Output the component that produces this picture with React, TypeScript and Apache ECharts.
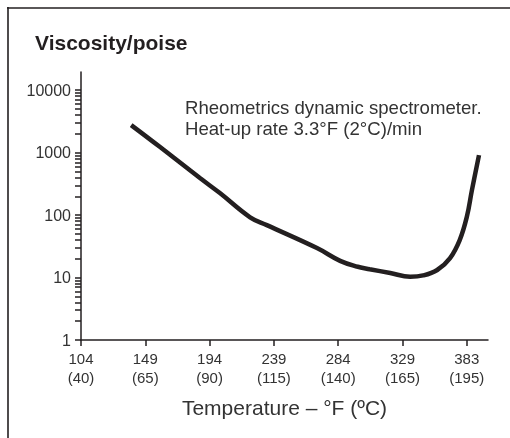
import React, { useEffect, useRef } from "react";
import * as echarts from "echarts";

// Tick labels (evenly spaced tick positions)
const tickF = ["104", "149", "194", "239", "284", "329", "383"];
const tickC = ["40", "65", "90", "115", "140", "165", "195"];
const yTickValues = [1, 10, 100, 1000, 10000];

// Curve: x in tick-position units (0 = 104°F, 1 = 149°F, ...), viscosity in poise
const curveX = [0.78, 1.23, 1.85, 2.16, 2.63, 2.89, 3.67, 4.03, 4.29, 4.49, 4.81, 5.12, 5.32, 5.54, 5.74, 5.89, 6.0, 6.08, 6.19];
const viscosity = [2754, 1225, 391, 225, 92, 69, 29.6, 18.5, 15.0, 13.6, 11.8, 10.3, 10.8, 13.2, 20.5, 39.8, 93, 251, 912];

const FONT = "'Liberation Sans', Arial, Helvetica, sans-serif";
const INK = "#231f20";
const TXT = "#333333";

export default function App() {
  const ref = useRef<HTMLDivElement>(null);
  useEffect(() => {
    if (!ref.current) return;
    const chart = echarts.init(ref.current, null, { renderer: "svg" });

    const yMinor: number[] = [];
    for (let d = 0; d < 4; d++) {
      for (let k = 1; k <= 9; k++) yMinor.push(Math.log10(k * Math.pow(10, d)));
    }
    yMinor.push(4);

    chart.setOption({
      animation: false,
      textStyle: { fontFamily: FONT },
      grid: { left: 81, right: 22, top: 72, bottom: 98 },
      xAxis: {
        type: "value",
        min: 0,
        max: 6.33,
        interval: 1,
        splitLine: { show: false },
        axisLine: { lineStyle: { color: INK, width: 1.5 } },
        axisTick: {
          show: true,
          length: 6,
          customValues: tickF.map((_, i) => i),
          lineStyle: { color: INK, width: 1.5 },
        },
        axisLabel: {
          customValues: tickF.map((_, i) => i),
          color: TXT,
          fontSize: 15,
          lineHeight: 19,
          margin: 9,
          fontFamily: FONT,
          formatter: (v: number) => {
            const i = Math.round(v);
            if (Math.abs(v - i) > 1e-6 || i < 0 || i >= tickF.length) return "";
            return tickF[i] + "\n(" + tickC[i] + ")";
          },
        },
        name: "Temperature – °F (ºC)",
        nameLocation: "middle",
        nameGap: 57,
        nameTextStyle: { color: TXT, fontSize: 21, fontFamily: FONT },
      },
      yAxis: {
        type: "value",
        min: 0,
        max: 4.29,
        interval: 1,
        splitLine: { show: false },
        axisLine: { show: true, lineStyle: { color: INK, width: 1.5 } },
        axisTick: {
          show: true,
          length: 6,
          customValues: yMinor,
          lineStyle: { color: INK, width: 1.5 },
        },
        axisLabel: {
          customValues: yTickValues.map((v) => Math.log10(v)),
          color: TXT,
          fontSize: 16,
          margin: 10,
          fontFamily: FONT,
          formatter: (v: number) => {
            const i = Math.round(v);
            if (Math.abs(v - i) > 1e-6) return "";
            return String(Math.round(Math.pow(10, i)));
          },
        },
      },
      series: [
        {
          type: "line",
          smooth: 0.4,
          symbol: "none",
          lineStyle: { color: INK, width: 4.5, cap: "butt" },
          data: curveX.map((x, i) => [x, Math.log10(viscosity[i])]),
        },
      ],
      graphic: [
        { type: "line", shape: { x1: 7, y1: 8, x2: 510, y2: 8 }, style: { stroke: INK, lineWidth: 1.6 } },
        { type: "line", shape: { x1: 8, y1: 7, x2: 8, y2: 438 }, style: { stroke: INK, lineWidth: 1.6 } },
        {
          type: "text",
          x: 35,
          y: 42,
          style: { text: "Viscosity/poise", font: `bold 21px ${FONT}`, fill: INK, verticalAlign: "middle" },
        },
        {
          type: "text",
          x: 185,
          y: 107,
          style: { text: "Rheometrics dynamic spectrometer.", font: `18.6px ${FONT}`, fill: TXT, verticalAlign: "middle" },
        },
        {
          type: "text",
          x: 185,
          y: 128,
          style: { text: "Heat-up rate 3.3°F (2°C)/min", font: `18.6px ${FONT}`, fill: TXT, verticalAlign: "middle" },
        },
      ],
    });
    return () => chart.dispose();
  }, []);
  return <div ref={ref} style={{ position: "fixed", left: 0, top: 0, width: 510, height: 438 }} />;
}
